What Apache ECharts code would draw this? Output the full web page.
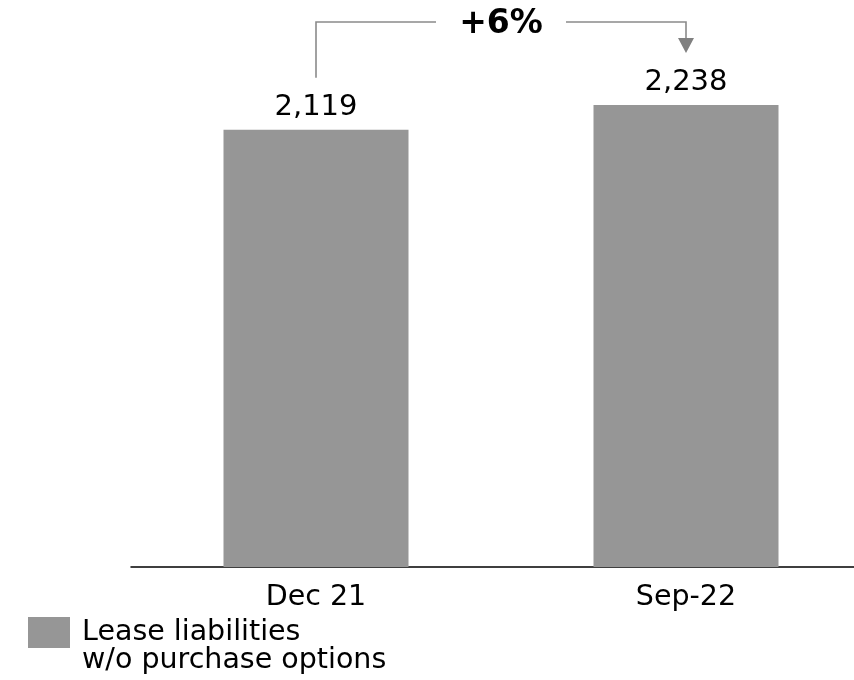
<!DOCTYPE html>
<html>
<head>
<meta charset="utf-8">
<script src="https://cdn.jsdelivr.net/npm/echarts@6/dist/echarts.min.js"></script>
<style>
  html, body { margin: 0; padding: 0; background: #fff; }
  #chart { width: 854px; height: 680px; }
</style>
</head>
<body>
<div id="chart"></div>
<script>
// Lease liabilities without purchase options, two reporting dates
const categories = ['Dec 21', 'Sep-22'];
const leaseValues = [2119, 2238];
const legendLines = ['Lease liabilities', 'w/o purchase options'];
const seriesName = legendLines.join(' ');

const FONT = 'DejaVu Sans, Verdana, sans-serif';
const BAR_GREY = '#969696';
const LINE_GREY = '#8a8a8a';

const chart = echarts.init(document.getElementById('chart'), null, { renderer: 'canvas' });

const fmt = v => v.toLocaleString('en-US');

chart.setOption({
  animation: false,
  // the plot area runs past the right edge, so the axis line is cut off there
  grid: { left: 131, width: 740, top: 51, bottom: 113, outerBoundsMode: 'none', containLabel: false },
  xAxis: {
    type: 'category',
    data: categories,
    axisLine: { show: true, lineStyle: { color: '#000', width: 1.5 } },
    axisTick: { show: false },
    axisLabel: { color: '#000', fontFamily: FONT, fontSize: 28.5, margin: 16 }
  },
  yAxis: {
    type: 'value',
    min: 0,
    max: 2500,
    show: false,
    splitLine: { show: false }
  },
  legend: {
    left: 28,
    top: 617,
    padding: 0,
    itemWidth: 42,
    itemHeight: 31,
    icon: 'rect',
    selectedMode: false,
    data: [seriesName],
    formatter: () => legendLines[0],
    textStyle: {
      color: '#000',
      fontFamily: FONT,
      fontSize: 28.5,
      padding: [0, 0, 0, 7]
    }
  },
  series: [{
    name: seriesName,
    type: 'bar',
    data: leaseValues,
    barWidth: '50%',
    itemStyle: { color: BAR_GREY },
    label: {
      show: true,
      position: 'top',
      distance: 8,
      color: '#000',
      fontFamily: FONT,
      fontSize: 29,
      formatter: p => fmt(p.value)
    }
  }]
});

// Growth bracket from the first bar to the second, with the change in percent
const p1 = chart.convertToPixel({ seriesIndex: 0 }, [0, leaseValues[0]]);
const p2 = chart.convertToPixel({ seriesIndex: 0 }, [1, leaseValues[1]]);
const change = Math.round((leaseValues[1] - leaseValues[0]) / leaseValues[0] * 100);
const bracketY = 22;
const gapAbove = 52;
const midX = (p1[0] + p2[0]) / 2;
const halfGap = 65;
const arrowH = 15, arrowW = 8;
const lineStyle = { stroke: LINE_GREY, lineWidth: 1.6, fill: null };

chart.setOption({
  graphic: [
    {
      type: 'polyline',
      shape: { points: [[p1[0], p1[1] - gapAbove], [p1[0], bracketY], [midX - halfGap, bracketY]] },
      style: lineStyle,
      silent: true
    },
    {
      type: 'polyline',
      shape: { points: [[midX + halfGap, bracketY], [p2[0], bracketY], [p2[0], p2[1] - gapAbove - arrowH]] },
      style: lineStyle,
      silent: true
    },
    {
      type: 'polygon',
      shape: {
        points: [
          [p2[0] - arrowW, p2[1] - gapAbove - arrowH],
          [p2[0] + arrowW, p2[1] - gapAbove - arrowH],
          [p2[0], p2[1] - gapAbove]
        ]
      },
      style: { fill: '#808080' },
      silent: true
    },
    {
      type: 'text',
      x: midX,
      y: 24,
      style: {
        text: (change >= 0 ? '+' : '') + change + '%',
        fill: '#000',
        font: 'bold 33px ' + FONT,
        align: 'center',
        verticalAlign: 'middle'
      },
      silent: true
    },
    // second line of the legend entry, under the first
    {
      type: 'text',
      x: 82,
      y: 661,
      style: {
        text: legendLines[1],
        fill: '#000',
        font: '28.5px ' + FONT,
        align: 'left',
        verticalAlign: 'middle'
      },
      silent: true
    }
  ]
});
</script>
</body>
</html>
